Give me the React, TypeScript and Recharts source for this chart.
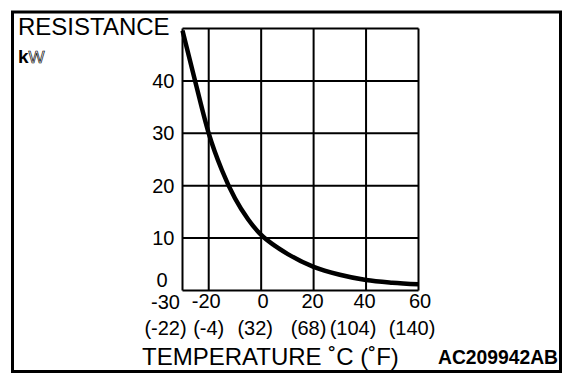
import React from 'react';
import { LineChart, Line, XAxis, YAxis, CartesianGrid } from 'recharts';

// temperature in °C
const temperatures = [-30, -25, -20, -15, -10, -5, 0, 5, 10, 20, 30, 40, 50, 60];
// resistance in kΩ
const resistances = [49.6, 39.6, 30, 23, 17.6, 13.6, 10.6, 8.6, 7.0, 4.5, 3.0, 2.0, 1.5, 1.2];

const xTicks = [-30, -20, 0, 20, 40, 60];
const xTickLabels = ['-30', '-20', '0', '20', '40', '60'];
const fahrenheitLabels = ['(-22)', '(-4)', '(32)', '(68)', '(104)', '(140)'];
const yTicks = [0, 10, 20, 30, 40, 50];
const yTickLabels = ['0', '10', '20', '30', '40', ''];

const titleText = 'RESISTANCE';
const unitK = 'k';
const unitW = 'W';
const xTitle = 'TEMPERATURE ˚C (˚F)';
const figureCode = 'AC209942AB';

const data = temperatures.map((t, i) => ({ t, r: resistances[i] }));

const FONT = '"Liberation Sans", Arial, Helvetica, sans-serif';

const XTick = (props: any) => {
  const { x, y, payload } = props;
  const idx = xTicks.indexOf(payload.value);
  if (idx < 0) return null;
  const row1dx: Record<number, number> = { [-30]: -17, [-20]: -2.5, [0]: 2, [20]: -1, [40]: -1.5, [60]: 1.5 };
  const row2dx: Record<number, number> = { [-30]: -17, [-20]: 0, [0]: -6, [20]: -5, [40]: -13, [60]: -6.5 };
  const isFirst = payload.value === -30;
  return (
    <g>
      <text x={x + (row1dx[payload.value] || 0)} y={y} dy={isFirst ? 18.5 : 17.5} textAnchor="middle" fontFamily={FONT} fontSize={20} fill="#000">
        {xTickLabels[idx]}
      </text>
      <text x={x + (row2dx[payload.value] || 0)} y={y} dy={44} textAnchor="middle" fontFamily={FONT} fontSize={20} fill="#000">
        {fahrenheitLabels[idx]}
      </text>
    </g>
  );
};

const YTick = (props: any) => {
  const { x, y, payload } = props;
  const idx = yTicks.indexOf(payload.value);
  if (idx < 0 || !yTickLabels[idx]) return null;
  const isZero = payload.value === 0;
  return (
    <text
      x={x + (isZero ? -7 : 0)}
      y={y + (isZero ? -11 : 0)}
      dy={7}
      textAnchor="end"
      fontFamily={FONT}
      fontSize={20}
      fill="#000"
    >
      {yTickLabels[idx]}
    </text>
  );
};

export default function App() {
  return (
    <div style={{ position: 'absolute', left: 0, top: 0, width: 576, height: 384, background: '#fff' }}>
      <LineChart
        width={576}
        height={384}
        data={data}
        margin={{ top: 28.5, right: 157.5, left: 0, bottom: 0 }}
      >
        <CartesianGrid stroke="#000" strokeWidth={2} horizontal vertical />
        <XAxis
          dataKey="t"
          type="number"
          domain={[-30, 60]}
          ticks={xTicks}
          axisLine={false}
          tickLine={false}
          tickSize={0}
          tickMargin={0}
          height={93.5}
          tick={<XTick />}
          interval={0}
        />
        <YAxis
          type="number"
          domain={[0, 50]}
          ticks={yTicks}
          axisLine={false}
          tickLine={false}
          tickSize={0}
          tickMargin={8}
          width={182.5}
          tick={<YTick />}
          interval={0}
        />
        <Line
          type="monotone"
          dataKey="r"
          stroke="#000"
          strokeWidth={4.5}
          dot={false}
          isAnimationActive={false}
        />
      </LineChart>
      <svg width={576} height={384} style={{ position: 'absolute', left: 0, top: 0, pointerEvents: 'none' }}>
        <rect x={12.5} y={12} width={548} height={359.5} fill="none" stroke="#000" strokeWidth={3} />
        <text x={18} y={34.5} fontFamily={FONT} fontSize={24} fill="#000">{titleText}</text>
        <text x={18} y={63} fontFamily={FONT} fontSize={19} fontWeight="bold" fill="#000">{unitK}</text>
        <text x={28.5} y={63} fontFamily={FONT} fontSize={17} fill="none" stroke="#000" strokeWidth={0.7}>{unitW}</text>
        <text x={142} y={365} fontFamily={FONT} fontSize={24} fill="#000">{xTitle}</text>
        <text x={438} y={364} fontFamily={FONT} fontSize={19.3} fontWeight="bold" fill="#000">{figureCode}</text>
      </svg>
    </div>
  );
}
